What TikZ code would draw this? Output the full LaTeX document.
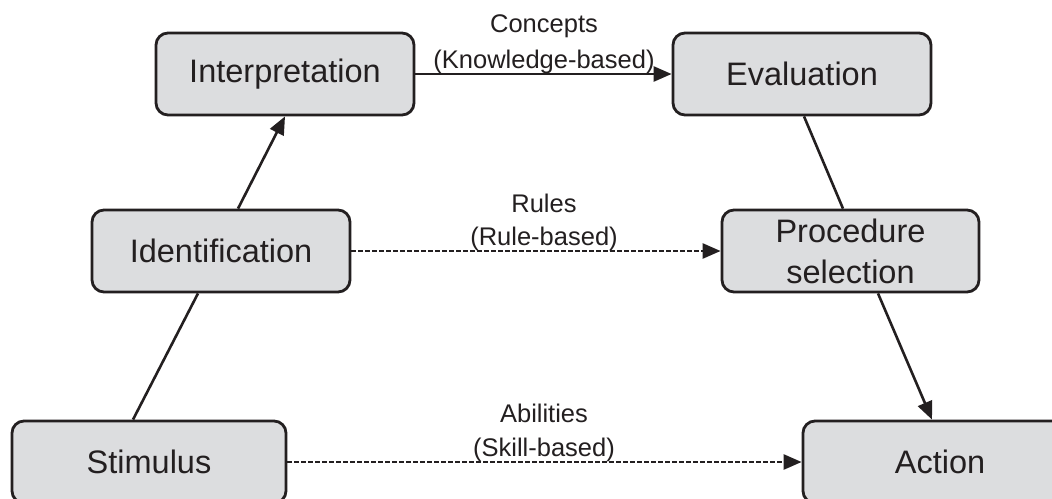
\documentclass[tikz,border=0pt]{standalone}
\usepackage{fontspec}
\setmainfont{Liberation Sans}
\usetikzlibrary{arrows.meta}
\definecolor{boxfill}{HTML}{DCDDDF}
\definecolor{ink}{HTML}{231F20}
\tikzset{
  stage/.style={draw=ink, fill=boxfill, line width=2.8pt, rounded corners=12pt,
    minimum width=258pt, minimum height=82pt, inner sep=0pt, align=center,
    text=ink, font=\fontsize{32.5}{41}\selectfont},
  lbl/.style={anchor=base, inner sep=0pt, text=ink, font=\fontsize{25.5}{28}\selectfont},
  link/.style={draw=ink, line width=2.6pt},
  flow/.style={link, -{Triangle[length=18pt,width=15pt]}},
  dflow/.style={flow, dash pattern=on 5pt off 2pt}
}
\begin{document}
\begin{tikzpicture}[x=1pt,y=-1pt]
\useasboundingbox (0,0) rectangle (1052,498);
\clip (0,0) rectangle (1052,498);
\fill[white] (0,0) rectangle (1052,498);
\node[stage] (interp) at (285,74) {Interpretation};
\node[stage] (eval) at (802,74) {Evaluation};
\node[stage] (ident) at (221,251) {Identification};
\node[stage, minimum width=257pt] (proc) at (850.5,251) {Procedure\\selection};
\node[stage, minimum width=274pt] (stim) at (149,462) {Stimulus};
\node[stage, minimum width=274pt] (act) at (940,462) {Action};
% labels
\node[lbl] (c1) at (544,32) {Concepts};
\node[lbl] (c2) at (544,68) {(Knowledge-based)};
\node[lbl] (r1) at (544,212) {Rules};
\node[lbl] (r2) at (544,245) {(Rule-based)};
\node[lbl] (a1) at (544,422) {Abilities};
\node[lbl] (a2) at (544,456) {(Skill-based)};
% connectors
\draw[link] (stim.north -| 133,0) -- (ident.south -| 198,0);
\draw[flow] (ident.north -| 238,0) -- (interp.south);
\draw[flow] (interp.east) -- (eval.west);
\draw[link] (eval.south -| 804,0) -- (proc.north -| 843,0);
\draw[flow] (proc.south -| 878,0) -- (act.north -| 932,0);
\draw[dflow] (ident.east) -- (proc.west);
\draw[dflow] (stim.east) -- (act.west);
\end{tikzpicture}
\end{document}
